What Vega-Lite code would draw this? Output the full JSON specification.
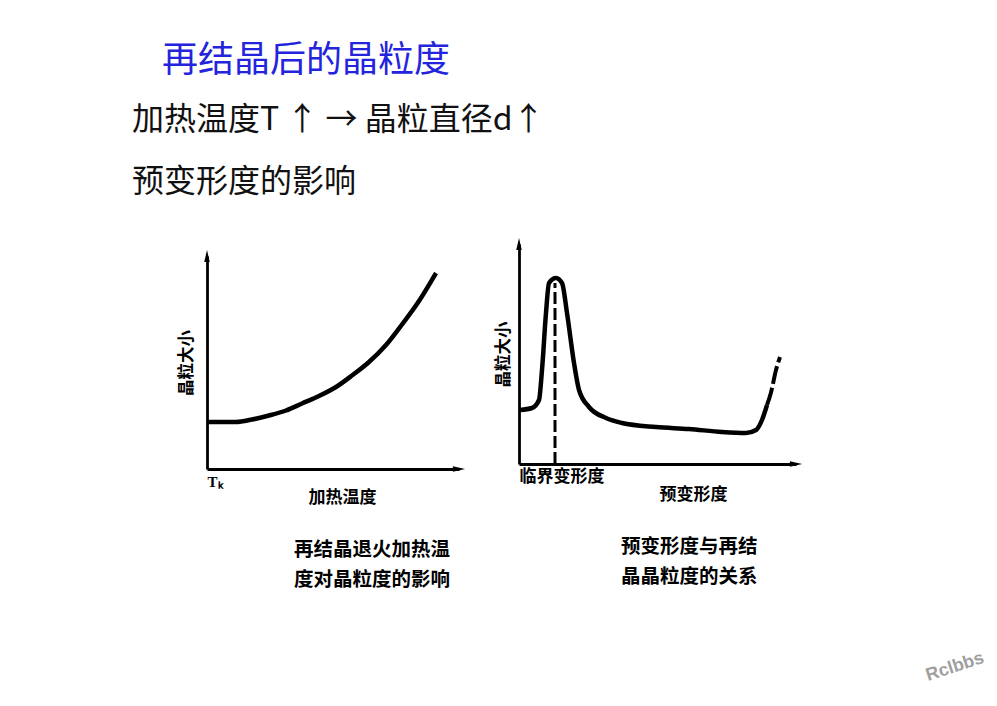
{
  "$schema": "https://vega.github.io/schema/vega-lite/v6.json",
  "background": "white",
  "padding": {"left": 132, "top": 42, "right": 5, "bottom": 5},
  "config": {"view": {"stroke": null}},
  "title": {
    "text": "再结晶后的晶粒度",
    "anchor": "start",
    "frame": "group",
    "dx": -45,
    "font": "Noto Sans CJK SC",
    "fontSize": 36,
    "fontWeight": "normal",
    "color": "#2424dc",
    "offset": 24
  },
  "datasets": {
    "leftCurve": [
      {"x": 0, "y": 18.8}, {"x": 11.6, "y": 18.8}, {"x": 18, "y": 19.8}, {"x": 24.8, "y": 21.4},
      {"x": 31.6, "y": 23.4}, {"x": 38, "y": 26.2}, {"x": 44.8, "y": 29.2}, {"x": 51.6, "y": 32.8},
      {"x": 58, "y": 37.4}, {"x": 64.8, "y": 42.8}, {"x": 71.6, "y": 49.6}, {"x": 78, "y": 57.8},
      {"x": 84.8, "y": 67.2}, {"x": 91.6, "y": 78.4}
    ],
    "leftArrowUp": [{"x": 0, "y": 85.2}],
    "leftArrowRight": [{"x": 100.8, "y": 0}],
    "rightCurve": [
      {"x": 0.4, "y": 21.6}, {"x": 5.2, "y": 22.4}, {"x": 8, "y": 25.6}, {"x": 9.2, "y": 37.6},
      {"x": 10.8, "y": 60.4}, {"x": 12, "y": 72.4}, {"x": 14.8, "y": 74.4}, {"x": 17.2, "y": 72.4},
      {"x": 19.2, "y": 60.4}, {"x": 22, "y": 40.4}, {"x": 24, "y": 29.6}, {"x": 28, "y": 22.8},
      {"x": 34.8, "y": 18.4}, {"x": 41.2, "y": 16.4}, {"x": 54.8, "y": 14.8}, {"x": 68, "y": 14},
      {"x": 81.2, "y": 12.8}, {"x": 90.8, "y": 12.4}, {"x": 94.8, "y": 13.6}, {"x": 97.2, "y": 17.6},
      {"x": 99.2, "y": 23.6}
    ],
    "rightDash": [
      {"x": 99.2, "y": 23.6}, {"x": 100.8, "y": 28.6}, {"x": 102.8, "y": 37.6}, {"x": 104.4, "y": 42.8}
    ],
    "rightArrowUp": [{"x": 0, "y": 88}],
    "rightArrowRight": [{"x": 110.8, "y": 0}],
    "criticalLine": [{"x": 14.4, "y": 0, "y2": 72.4}],
    "watermark": [{"label": "Rclbbs", "x": 1, "y": 0.5}]
  },
  "spacing": 59,
  "vconcat": [
    {
      "title": {
        "text": ["加热温度T ↑ → 晶粒直径d↑", "预变形度的影响"],
        "anchor": "start",
        "frame": "group",
        "dx": -75,
        "font": "Noto Sans CJK SC",
        "fontSize": 32,
        "fontWeight": "normal",
        "color": "#111111",
        "lineHeight": 62,
        "offset": 39
      },
      "spacing": 60,
      "bounds": "flush",
      "hconcat": [
        {
          "width": 252,
          "height": 225,
          "title": {
            "text": ["再结晶退火加热温", "度对晶粒度的影响"],
            "orient": "bottom", "anchor": "start", "frame": "group", "dx": 87,
            "font": "Noto Sans CJK SC", "fontSize": 19.5, "fontWeight": "bold", "color": "black",
            "lineHeight": 30, "offset": 36
          },
          "encoding": {
            "x": {"field": "x", "type": "quantitative",
                  "scale": {"domain": [0, 100.8], "nice": false, "zero": false},
                  "axis": {"title": "加热温度", "grid": false, "ticks": false, "values": [0], "labelExpr": "'Tₖ'",
                           "domainColor": "black", "domainWidth": 2.8,
                           "labelFont": "Liberation Serif", "labelFontWeight": "bold", "labelFontSize": 15, "labelColor": "black", "labelPadding": 5,
                           "titleFont": "Noto Sans CJK SC", "titleFontSize": 17, "titleFontWeight": "bold", "titleColor": "black", "titlePadding": 0, "titleX": 135}},
            "y": {"field": "y", "type": "quantitative",
                  "scale": {"domain": [0, 85.2], "range": [225, 12], "nice": false, "zero": false},
                  "axis": {"title": "晶粒大小", "grid": false, "ticks": false, "labels": false,
                           "domainColor": "black", "domainWidth": 2.8,
                           "titleFont": "Noto Sans CJK SC", "titleFontSize": 16.5, "titleFontWeight": "bold", "titleColor": "black", "titlePadding": 13}}
          },
          "layer": [
            {"data": {"name": "leftArrowUp"}, "mark": {"type": "point", "shape": "M0,-1L0.45,1L-0.45,1Z", "size": 150, "filled": true, "color": "black", "opacity": 1}},
            {"data": {"name": "leftArrowRight"}, "mark": {"type": "point", "shape": "M1,0L-1,-0.45L-1,0.45Z", "size": 150, "filled": true, "color": "black", "opacity": 1}},
            {"data": {"name": "leftCurve"}, "mark": {"type": "line", "interpolate": "monotone", "strokeWidth": 4.5, "color": "black"}}
          ]
        },
        {
          "width": 277,
          "height": 220,
          "title": {
            "text": ["预变形度与再结", "晶晶粒度的关系"],
            "orient": "bottom", "anchor": "start", "frame": "group", "dx": 102,
            "font": "Noto Sans CJK SC", "fontSize": 19.5, "fontWeight": "bold", "color": "black",
            "lineHeight": 30, "offset": 36
          },
          "encoding": {
            "x": {"field": "x", "type": "quantitative",
                  "scale": {"domain": [0, 110.8], "nice": false, "zero": false},
                  "axis": {"title": "预变形度", "grid": false, "ticks": false, "values": [0], "labelExpr": "'临界变形度'", "labelAlign": "left",
                           "domainColor": "black", "domainWidth": 2.8,
                           "labelFont": "Noto Sans CJK SC", "labelFontWeight": "bold", "labelFontSize": 17, "labelColor": "black", "labelPadding": 4,
                           "titleFont": "Noto Sans CJK SC", "titleFontSize": 17, "titleFontWeight": "bold", "titleColor": "black", "titlePadding": 2, "titleX": 174}},
            "y": {"field": "y", "type": "quantitative",
                  "scale": {"domain": [0, 88], "nice": false, "zero": false},
                  "axis": {"title": "晶粒大小", "grid": false, "ticks": false, "labels": false,
                           "domainColor": "black", "domainWidth": 2.8,
                           "titleFont": "Noto Sans CJK SC", "titleFontSize": 16.5, "titleFontWeight": "bold", "titleColor": "black", "titlePadding": 8}}
          },
          "layer": [
            {"data": {"name": "rightArrowUp"}, "mark": {"type": "point", "shape": "M0,-1L0.45,1L-0.45,1Z", "size": 150, "filled": true, "color": "black", "opacity": 1}},
            {"data": {"name": "rightArrowRight"}, "mark": {"type": "point", "shape": "M1,0L-1,-0.45L-1,0.45Z", "size": 150, "filled": true, "color": "black", "opacity": 1}},
            {"data": {"name": "criticalLine"}, "mark": {"type": "rule", "strokeWidth": 3, "strokeDash": [12, 4], "color": "black"},
             "encoding": {"y2": {"field": "y2"}}},
            {"data": {"name": "rightCurve"}, "mark": {"type": "line", "interpolate": "monotone", "strokeWidth": 4.5, "color": "black"}},
            {"data": {"name": "rightDash"}, "mark": {"type": "line", "interpolate": "monotone", "strokeWidth": 4, "strokeDash": [18, 4], "color": "black"}}
          ]
        }
      ]
    },
    {
      "width": 748,
      "height": 30,
      "data": {"name": "watermark"},
      "mark": {"type": "text", "font": "Liberation Sans", "fontWeight": "bold", "fontSize": 18, "angle": -18, "color": "#a0a0a0"},
      "encoding": {
        "x": {"field": "x", "type": "quantitative", "scale": {"domain": [0, 1], "nice": false, "zero": false}, "axis": null},
        "y": {"field": "y", "type": "quantitative", "scale": {"domain": [0, 1], "nice": false, "zero": false}, "axis": null},
        "text": {"field": "label"}
      }
    }
  ]
}
